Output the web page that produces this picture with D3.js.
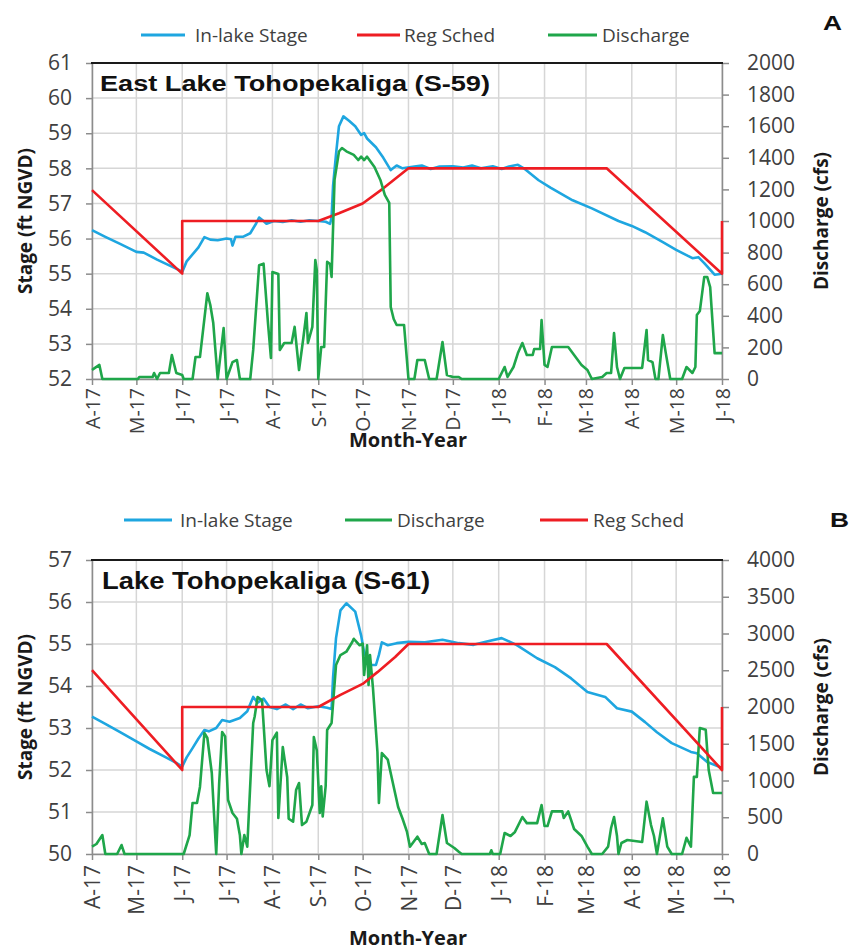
<!DOCTYPE html>
<html>
<head>
<meta charset="utf-8">
<script src="https://cdn.jsdelivr.net/npm/d3@7"></script>
<style>
  body { margin: 0; background: #fff; }
  text { font-family: "Open Sans", sans-serif; fill: #404040; }
</style>
</head>
<body>
<svg id="chart" width="851" height="951"></svg>
<script>
// month tick labels, Apr-2017 .. Jun-2018
const monthLabels = ["A-17","M-17","J-17","J-17","A-17","S-17","O-17","N-17","D-17","J-18","F-18","M-18","A-18","M-18","J-18"];

// East Lake Tohopekaliga (S-59)
const stageA = [
  ["2017-04-01",56.24],["2017-04-10",56.05],["2017-04-20",55.85],["2017-05-01",55.62],["2017-05-06",55.6],
  ["2017-05-15",55.4],["2017-05-25",55.2],["2017-05-30",55.1],["2017-06-01",55.05],["2017-06-04",55.35],
  ["2017-06-09",55.6],["2017-06-12",55.75],["2017-06-16",56.04],["2017-06-20",55.97],["2017-06-25",55.95],
  ["2017-07-01",56.0],["2017-07-04",55.98],["2017-07-05",55.8],["2017-07-07",56.05],["2017-07-12",56.05],
  ["2017-07-17",56.15],["2017-07-21",56.43],["2017-07-23",56.6],["2017-07-26",56.5],["2017-07-28",56.42],
  ["2017-08-02",56.5],["2017-08-08",56.47],["2017-08-14",56.52],["2017-08-20",56.48],["2017-08-26",56.52],
  ["2017-09-01",56.5],["2017-09-06",56.48],["2017-09-09",56.42],["2017-09-10",56.6],["2017-09-11",57.5],
  ["2017-09-13",58.4],["2017-09-15",59.2],["2017-09-18",59.48],["2017-09-22",59.35],["2017-09-26",59.2],
  ["2017-09-30",58.95],["2017-10-02",59.0],["2017-10-04",58.85],["2017-10-10",58.6],["2017-10-15",58.3],
  ["2017-10-20",57.95],["2017-10-24",58.08],["2017-10-28",58.0],["2017-11-05",58.05],["2017-11-10",58.08],
  ["2017-11-16",57.98],["2017-11-22",58.05],["2017-12-01",58.06],["2017-12-08",58.02],["2017-12-14",58.08],
  ["2017-12-20",58.0],["2017-12-28",58.06],["2018-01-03",57.98],["2018-01-08",58.05],["2018-01-14",58.1],
  ["2018-01-18",58.0],["2018-01-28",57.66],["2018-02-05",57.45],["2018-02-20",57.09],["2018-03-05",56.86],
  ["2018-03-23",56.5],["2018-04-01",56.36],["2018-04-10",56.18],["2018-04-22",55.9],["2018-05-01",55.68],
  ["2018-05-12",55.44],["2018-05-16",55.47],["2018-05-20",55.3],["2018-05-27",54.97],["2018-06-01",55.0]
];
const regA = [
  ["2017-04-01",57.38],["2017-06-01",55.0],["2017-06-01",56.5],["2017-09-01",56.5],["2017-09-15",56.72],
  ["2017-10-01",57.0],["2017-10-15",57.43],["2017-11-01",58.0],["2018-03-15",58.0],["2018-06-01",55.0],
  ["2018-06-01",56.5]
];
const flowA = [
  ["2017-04-01",57],["2017-04-03",70],["2017-04-06",89],["2017-04-08",0],["2017-05-02",0],["2017-05-03",13],
  ["2017-05-12",13],["2017-05-13",38],["2017-05-15",0],["2017-05-17",38],["2017-05-23",38],["2017-05-25",152],
  ["2017-05-28",38],["2017-06-01",25],["2017-06-02",0],["2017-06-08",0],["2017-06-10",139],["2017-06-13",139],
  ["2017-06-18",543],["2017-06-20",468],["2017-06-22",354],["2017-06-25",0],["2017-06-29",322],["2017-07-01",0],
  ["2017-07-05",107],["2017-07-08",120],["2017-07-10",0],["2017-07-17",0],["2017-07-19",184],["2017-07-23",720],
  ["2017-07-26",730],["2017-07-29",354],["2017-07-31",133],["2017-08-01",677],["2017-08-05",664],["2017-08-06",184],
  ["2017-08-09",228],["2017-08-14",228],["2017-08-16",330],["2017-08-19",57],["2017-08-22",266],["2017-08-24",418],
  ["2017-08-25",228],["2017-08-28",330],["2017-08-30",753],["2017-08-31",690],["2017-09-01",0],["2017-09-03",203],
  ["2017-09-05",203],["2017-09-07",741],["2017-09-09",728],["2017-09-10",646],["2017-09-12",1260],["2017-09-15",1440],
  ["2017-09-17",1462],["2017-09-20",1441],["2017-09-25",1418],["2017-09-28",1386],["2017-09-30",1407],["2017-10-02",1386],
  ["2017-10-04",1407],["2017-10-09",1342],["2017-10-13",1260],["2017-10-16",1165],["2017-10-19",1114],["2017-10-20",456],
  ["2017-10-22",380],["2017-10-24",342],["2017-10-29",342],["2017-11-01",0],["2017-11-05",0],["2017-11-07",120],
  ["2017-11-12",120],["2017-11-15",0],["2017-11-20",0],["2017-11-24",234],["2017-11-27",25],["2017-12-01",13],
  ["2017-12-05",13],["2017-12-07",0],["2018-01-01",0],["2018-01-05",76],["2018-01-07",13],["2018-01-11",76],
  ["2018-01-14",164],["2018-01-17",228],["2018-01-20",152],["2018-01-24",152],["2018-01-25",190],["2018-01-29",190],
  ["2018-01-30",373],["2018-02-01",89],["2018-02-03",76],["2018-02-06",203],["2018-02-17",203],["2018-02-21",152],
  ["2018-02-26",89],["2018-03-02",57],["2018-03-05",0],["2018-03-12",13],["2018-03-15",38],["2018-03-18",38],
  ["2018-03-20",291],["2018-03-22",76],["2018-03-24",0],["2018-03-27",70],["2018-04-08",70],["2018-04-11",310],
  ["2018-04-12",120],["2018-04-15",107],["2018-04-17",0],["2018-04-19",0],["2018-04-22",278],["2018-04-24",164],
  ["2018-04-27",0],["2018-05-05",0],["2018-05-08",76],["2018-05-12",38],["2018-05-14",76],["2018-05-15",405],
  ["2018-05-17",430],["2018-05-20",646],["2018-05-22",646],["2018-05-24",582],["2018-05-27",164],["2018-06-01",164]
];
const stageTicksA = [52, 53, 54, 55, 56, 57, 58, 59, 60, 61];
const flowTicksA = [0, 200, 400, 600, 800, 1000, 1200, 1400, 1600, 1800, 2000];

// Lake Tohopekaliga (S-61)
const stageB = [
  ["2017-04-01",53.27],["2017-04-10",53.1],["2017-04-20",52.9],["2017-05-01",52.68],["2017-05-10",52.5],
  ["2017-05-20",52.32],["2017-05-28",52.17],["2017-06-01",52.08],["2017-06-04",52.3],["2017-06-08",52.52],
  ["2017-06-12",52.75],["2017-06-16",52.95],["2017-06-19",52.92],["2017-06-24",53.0],["2017-06-28",53.19],
  ["2017-07-03",53.15],["2017-07-10",53.24],["2017-07-15",53.4],["2017-07-19",53.74],["2017-07-22",53.6],
  ["2017-07-26",53.7],["2017-07-30",53.5],["2017-08-04",53.45],["2017-08-10",53.56],["2017-08-15",53.45],
  ["2017-08-20",53.56],["2017-08-25",53.47],["2017-09-01",53.52],["2017-09-07",53.48],["2017-09-10",53.45],
  ["2017-09-11",54.2],["2017-09-13",55.14],["2017-09-16",55.8],["2017-09-20",55.97],["2017-09-26",55.77],
  ["2017-09-30",55.2],["2017-10-02",54.8],["2017-10-06",54.5],["2017-10-10",54.5],["2017-10-12",54.74],
  ["2017-10-14",55.04],["2017-10-18",54.97],["2017-10-24",55.02],["2017-11-01",55.05],["2017-11-12",55.04],
  ["2017-11-24",55.1],["2017-12-05",55.02],["2017-12-15",54.98],["2017-12-24",55.06],["2018-01-03",55.14],
  ["2018-01-13",54.98],["2018-01-27",54.66],["2018-02-08",54.45],["2018-02-19",54.18],["2018-03-02",53.86],
  ["2018-03-14",53.74],["2018-03-22",53.47],["2018-04-01",53.39],["2018-04-10",53.14],["2018-04-18",52.9],
  ["2018-04-28",52.64],["2018-05-11",52.43],["2018-05-15",52.4],["2018-05-22",52.19],["2018-06-01",52.05]
];
const regB = [
  ["2017-04-01",54.38],["2017-06-01",52.0],["2017-06-01",53.5],["2017-09-01",53.5],["2017-09-16",53.79],
  ["2017-10-01",54.05],["2017-10-11",54.33],["2017-10-23",54.69],["2017-11-01",55.0],["2018-03-15",55.0],
  ["2018-06-01",52.0],["2018-06-01",53.5]
];
const flowB = [
  ["2017-04-01",100],["2017-04-04",136],["2017-04-08",258],["2017-04-10",0],["2017-04-18",0],["2017-04-21",122],
  ["2017-04-23",0],["2017-06-02",0],["2017-06-06",258],["2017-06-08",694],["2017-06-11",694],["2017-06-13",912],
  ["2017-06-16",1646],["2017-06-18",1578],["2017-06-21",1102],["2017-06-24",0],["2017-06-26",966],["2017-06-28",1660],
  ["2017-06-30",1600],["2017-07-02",735],["2017-07-05",558],["2017-07-08",480],["2017-07-10",254],["2017-07-11",0],
  ["2017-07-13",258],["2017-07-15",100],["2017-07-19",1782],["2017-07-20",1870],["2017-07-22",2136],["2017-07-25",2090],
  ["2017-07-28",1143],["2017-07-30",922],["2017-08-01",1550],["2017-08-04",1650],["2017-08-05",490],["2017-08-08",1456],
  ["2017-08-11",1045],["2017-08-12",480],["2017-08-15",440],["2017-08-17",870],["2017-08-19",966],["2017-08-21",394],
  ["2017-08-24",440],["2017-08-28",666],["2017-08-29",1592],["2017-08-31",1410],["2017-09-02",558],["2017-09-03",922],
  ["2017-09-04",510],["2017-09-06",922],["2017-09-07",1687],["2017-09-10",1782],["2017-09-13",2571],["2017-09-16",2707],
  ["2017-09-20",2752],["2017-09-24",2884],["2017-09-25",2928],["2017-09-29",2840],["2017-10-01",2862],["2017-10-02",2435],
  ["2017-10-04",2840],["2017-10-05",2300],["2017-10-06",2707],["2017-10-08",2254],["2017-10-11",1388],["2017-10-12",694],
  ["2017-10-14",1374],["2017-10-18",1284],["2017-10-21",1007],["2017-10-25",640],["2017-10-28",480],["2017-10-31",300],
  ["2017-11-02",100],["2017-11-07",236],["2017-11-10",136],["2017-11-12",150],["2017-11-15",0],["2017-11-20",0],
  ["2017-11-24",530],["2017-11-27",150],["2017-12-02",82],["2017-12-05",30],["2017-12-07",0],["2017-12-26",0],
  ["2017-12-27",50],["2017-12-28",0],["2018-01-02",0],["2018-01-05",286],["2018-01-09",245],["2018-01-12",300],
  ["2018-01-17",503],["2018-01-20",420],["2018-01-27",420],["2018-01-30",667],["2018-02-01",380],["2018-02-03",380],
  ["2018-02-06",580],["2018-02-13",580],["2018-02-14",490],["2018-02-17",580],["2018-02-21",340],["2018-02-26",245],
  ["2018-03-02",100],["2018-03-05",0],["2018-03-12",0],["2018-03-16",100],["2018-03-18",354],["2018-03-20",503],
  ["2018-03-22",245],["2018-03-23",0],["2018-03-25",150],["2018-03-29",190],["2018-04-08",163],["2018-04-11",712],
  ["2018-04-14",394],["2018-04-16",245],["2018-04-18",0],["2018-04-22",485],["2018-04-25",100],["2018-04-28",0],
  ["2018-05-05",0],["2018-05-08",220],["2018-05-11",100],["2018-05-13",1050],["2018-05-15",1050],["2018-05-17",1714],
  ["2018-05-21",1690],["2018-05-23",1143],["2018-05-26",830],["2018-06-01",830]
];
const stageTicksB = [50, 51, 52, 53, 54, 55, 56, 57];
const flowTicksB = [0, 500, 1000, 1500, 2000, 2500, 3000, 3500, 4000];

const parse = d3.timeParse("%Y-%m-%d");
const months = d3.timeMonth.range(parse("2017-04-01"), parse("2018-06-02"));
const colors = { stage: "#1ea6e0", reg: "#ee1d23", flow: "#1fa64a" };
const names = { stage: "In-lake Stage", reg: "Reg Sched", flow: "Discharge" };

const svg = d3.select("#chart");
const left = 92, right = 722;
const x = d3.scaleTime().domain([parse("2017-04-01"), parse("2018-06-01")]).range([left, right]);

function drawPanel(p) {
  const g = svg.append("g");
  const y = d3.scaleLinear().domain(d3.extent(p.stageTicks)).range([p.bottom, p.top]);
  const y2 = d3.scaleLinear().domain(d3.extent(p.flowTicks)).range([p.bottom, p.top]);

  // gridlines
  g.append("g").selectAll("line").data(p.stageTicks).join("line")
    .attr("x1", left).attr("x2", right)
    .attr("y1", d => y(d)).attr("y2", d => y(d))
    .attr("stroke", "#d6d6d6").attr("stroke-width", 1.5);
  g.append("g").selectAll("line").data(months).join("line")
    .attr("x1", d => x(d)).attr("x2", d => x(d))
    .attr("y1", p.top).attr("y2", p.bottom)
    .attr("stroke", "#d6d6d6").attr("stroke-width", 1.5);

  // axes
  const styleAxis = sel => {
    sel.selectAll(".domain, .tick line").attr("stroke", "#8c8c8c").attr("stroke-width", 1.5);
    sel.selectAll(".tick text").attr("fill", "#404040").style("font-size", "21px")
      .style("font-family", "'Open Sans', sans-serif");
  };
  g.append("g").attr("transform", `translate(${left},0)`)
    .call(d3.axisLeft(y).tickValues(p.stageTicks).tickFormat(d3.format("d")).tickSize(6).tickPadding(14).tickSizeOuter(0))
    .call(styleAxis);
  g.append("g").attr("transform", `translate(${right},0)`)
    .call(d3.axisRight(y2).tickValues(p.flowTicks).tickFormat(d3.format("d")).tickSize(7).tickPadding(18).tickSizeOuter(0))
    .call(styleAxis);
  g.append("g").attr("transform", `translate(0,${p.bottom})`)
    .call(d3.axisBottom(x).tickValues(months).tickFormat((d, i) => monthLabels[i]).tickSize(6).tickSizeOuter(0))
    .call(styleAxis)
    .selectAll(".tick text")
    .style("font-size", p.monthSize + "px")
    .attr("transform", "rotate(-90)")
    .attr("x", -p.labelGap).attr("y", 0).attr("dy", "0.36em")
    .style("text-anchor", "end");

  // top border
  g.append("line").attr("x1", left - 1).attr("x2", right + 1)
    .attr("y1", p.top).attr("y2", p.top)
    .attr("stroke", "#1a1a1a").attr("stroke-width", 2.2);

  // series
  const lineStage = d3.line().x(d => x(parse(d[0]))).y(d => y(d[1]));
  const lineFlow = d3.line().x(d => x(parse(d[0]))).y(d => y2(d[1]));
  const paths = {
    stage: () => g.append("path").datum(p.stage).attr("d", lineStage),
    reg: () => g.append("path").datum(p.reg).attr("d", lineStage),
    flow: () => g.append("path").datum(p.flow).attr("d", lineFlow)
  };
  p.order.forEach(k => {
    paths[k]().attr("fill", "none").attr("stroke", colors[k])
      .attr("stroke-width", 2.6).attr("stroke-linejoin", "round");
  });

  // legend
  const lg = g.append("g");
  p.legend.forEach(item => {
    lg.append("line").attr("x1", item.x1).attr("x2", item.x2)
      .attr("y1", p.legendY).attr("y2", p.legendY)
      .attr("stroke", colors[item.key]).attr("stroke-width", 3);
    lg.append("text").attr("x", item.tx).attr("y", p.legendY).attr("dy", "0.36em")
      .style("font-size", "19px").text(names[item.key]);
  });

  // title inside plot
  g.append("text").attr("x", p.titleX).attr("y", p.titleY)
    .attr("textLength", p.titleLen).attr("lengthAdjust", "spacingAndGlyphs")
    .style("font-family", "'Liberation Sans', Arial, sans-serif")
    .style("font-weight", "bold").style("font-size", p.titleSize + "px")
    .style("fill", "#111").text(p.title);

  // panel letter
  g.append("text").attr("x", p.letterX).attr("y", p.letterY)
    .attr("textLength", 19).attr("lengthAdjust", "spacingAndGlyphs")
    .style("font-family", "'Liberation Sans', Arial, sans-serif")
    .style("font-weight", "bold").style("font-size", "21px")
    .style("fill", "#111").text(p.letter);

  // axis titles
  const mid = (p.top + p.bottom) / 2;
  g.append("text").attr("transform", `translate(25,${mid}) rotate(-90)`)
    .attr("dy", "0.36em").style("text-anchor", "middle")
    .style("font-weight", "bold").style("font-size", "19px").style("fill", "#1a1a1a")
    .text("Stage (ft NGVD)");
  g.append("text").attr("transform", `translate(821,${mid}) rotate(-90)`)
    .attr("dy", "0.36em").style("text-anchor", "middle")
    .style("font-weight", "bold").style("font-size", "19px").style("fill", "#1a1a1a")
    .text("Discharge (cfs)");
  g.append("text").attr("x", 408).attr("y", p.xTitleY)
    .style("text-anchor", "middle")
    .style("font-weight", "bold").style("font-size", "20px").style("fill", "#1a1a1a")
    .text("Month-Year");
}

drawPanel({
  top: 63, bottom: 379, labelGap: 9, monthSize: 19.5, xTitleY: 447,
  stageTicks: stageTicksA, flowTicks: flowTicksA,
  stage: stageA, reg: regA, flow: flowA,
  order: ["stage", "reg", "flow"],
  legendY: 35,
  legend: [
    { key: "stage", x1: 141, x2: 185, tx: 195 },
    { key: "reg", x1: 357, x2: 400, tx: 404 },
    { key: "flow", x1: 548, x2: 597, tx: 602 }
  ],
  title: "East Lake Tohopekaliga (S-59)", titleX: 100, titleY: 91, titleLen: 390, titleSize: 22,
  letter: "A", letterX: 823, letterY: 30
});

drawPanel({
  top: 560, bottom: 854, labelGap: 11, monthSize: 21, xTitleY: 945,
  stageTicks: stageTicksB, flowTicks: flowTicksB,
  stage: stageB, reg: regB, flow: flowB,
  order: ["stage", "flow", "reg"],
  legendY: 520,
  legend: [
    { key: "stage", x1: 124, x2: 172, tx: 180 },
    { key: "flow", x1: 345, x2: 392, tx: 397 },
    { key: "reg", x1: 540, x2: 588, tx: 593 }
  ],
  title: "Lake Tohopekaliga (S-61)", titleX: 102, titleY: 589, titleLen: 328, titleSize: 23,
  letter: "B", letterX: 830, letterY: 527
});
</script>
</body>
</html>
